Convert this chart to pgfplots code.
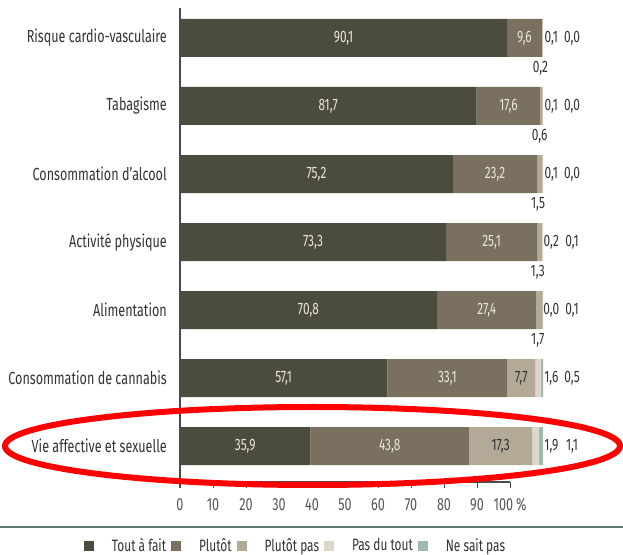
\documentclass[border=0pt]{standalone}
\usepackage{pgfplots}
\pgfplotsset{compat=1.18}
\usepackage{pgfplotstable}
\usepackage{fontspec}
\setmainfont{Fira Sans}[FakeStretch=0.72]

\definecolor{c1}{HTML}{4B4B3E}
\definecolor{c2}{HTML}{7A7060}
\definecolor{c3}{HTML}{B2AA97}
\definecolor{c4}{HTML}{DDD7C9}
\definecolor{c5}{HTML}{9DB8AE}
\definecolor{lighttext}{HTML}{E8E5DC}
\definecolor{darktext}{HTML}{333333}
\definecolor{tickgray}{HTML}{555555}
\definecolor{axisgray}{HTML}{4A4A4A}
\definecolor{sepcol}{HTML}{5E7A70}

% shares per theme: a = tout a fait, b = plutot, c = plutot pas, d = pas du tout, e = ne sait pas
\pgfplotstableread{
y a b c d e
6 90.1 9.6 0.2 0.1 0.0
5 81.7 17.6 0.6 0.1 0.0
4 75.2 23.2 1.5 0.1 0.0
3 73.3 25.1 1.3 0.2 0.1
2 70.8 27.4 1.7 0.0 0.1
1 57.1 33.1 7.7 1.6 0.5
0 35.9 43.8 17.3 1.9 1.1
}\data

\newcommand\cfont{\fontsize{17.5bp}{20bp}\selectfont}
\newcommand\lfont{\fontsize{16.5bp}{19bp}\selectfont}

\pgfplotsset{
  base/.style={
    scale only axis, width=363bp, height=474bp,
    at={(180bp,73bp)}, anchor=south west,
    xmin=0, xmax=100, ymin=-0.529, ymax=6.441,
    clip=false,
    /pgf/number format/assume math mode=true,
  },
  vlabel/.style={draw=none, mark=none, forget plot,
    point meta=explicit,
    nodes near coords={\pgfmathprintnumber[fixed,fixed zerofill,precision=1,use comma]{\pgfplotspointmeta}},
    every node near coord/.append style={anchor=center, font=\lfont, inner sep=0pt, text=#1},
  },
}

\begin{document}
\begin{tikzpicture}
\useasboundingbox (0,0) rectangle (623bp,555bp);

\begin{axis}[base,
  xbar stacked, bar width=38bp,
  axis line style={draw=none},
  xtick={0,9.0909,18.1818,27.2727,36.3636,45.4545,54.5454,63.6364,72.7273,81.8182,90.9091},
  xticklabels={0,10,20,30,40,50,60,70,80,90,100\,\%},
  ytick={0,1,2,3,4,5,6},
  yticklabels={Vie affective et sexuelle,Consommation de cannabis,Alimentation,Activité physique,Consommation d'alcool,Tabagisme,Risque cardio-vasculaire},
  tick align=outside, xtick pos=bottom, ytick pos=left,
  major tick length=6bp,
  xtick style={draw=axisgray, line width=1bp},
  ytick style={draw=none},
  tick label style={font=\cfont},
  xticklabel style={text=tickgray, yshift=-7bp},
  yticklabel style={text=darktext, inner sep=0pt, xshift=-7bp},
  legend columns=5,
  legend style={at={(0.3168,-0.134)}, anchor=center, draw=none, fill=none,
    font=\lfont, text=darktext, nodes={inner sep=1bp},
    /tikz/every even column/.append style={column sep=4bp},
    /tikz/every odd column/.append style={column sep=17bp}},
  legend image code/.code={\fill[#1] (0bp,-5bp) rectangle (10bp,5bp);},
]
\addplot[fill=c1, draw=none] table[x=a, y=y]{\data};
\addplot[fill=c2, draw=none] table[x=b, y=y]{\data};
\addplot[fill=c3, draw=none] table[x=c, y=y]{\data};
\addplot[fill=c4, draw=none] table[x=d, y=y]{\data};
\addplot[fill=c5, draw=none] table[x=e, y=y]{\data};
\legend{Tout à fait,Plutôt,Plutôt pas,Pas du tout,Ne sait pas}
\end{axis}

% value labels and axis lines
\begin{axis}[base, hide axis]
\addplot[vlabel=lighttext] table[x expr=\thisrow{a}/2, y=y, meta=a]{\data};
\addplot[vlabel=lighttext] table[x expr=\thisrow{a}+\thisrow{b}/2, y=y, meta=b]{\data};
\addplot[vlabel=darktext, restrict y to domain=-0.5:1.5]
  table[x expr=\thisrow{a}+\thisrow{b}+\thisrow{c}/2, y=y, meta=c]{\data};
\addplot[vlabel=darktext, restrict y to domain=1.2:6.5]
  table[x expr=\thisrow{a}+\thisrow{b}+\thisrow{c}/2-0.5, y expr=\thisrow{y}-0.45, meta=c]{\data};
\addplot[vlabel=darktext] table[x expr=102.3, y=y, meta=d]{\data};
\addplot[vlabel=darktext] table[x expr=108.0, y=y, meta=e]{\data};
\draw[axisgray, line width=1.3bp] (axis description cs:0,1) -- ([yshift=-6bp]axis description cs:0,0);
\draw[axisgray, line width=1.1bp] (axis description cs:0,0) -- (axis description cs:0.90909,0);
\end{axis}

\draw[sepcol, line width=2.5bp] (0,28bp) -- (623bp,28bp);
\draw[red, line width=6bp] (312.5bp,109bp) ellipse [x radius=307.5bp, y radius=39bp];
\end{tikzpicture}
\end{document}
